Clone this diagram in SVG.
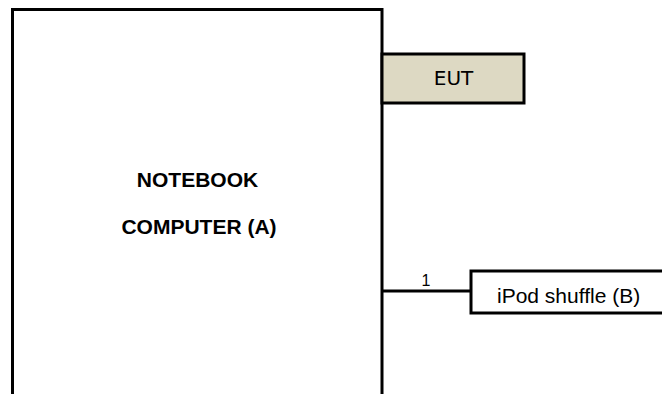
<svg xmlns="http://www.w3.org/2000/svg" width="662" height="394" viewBox="0 0 662 394">
<style>
.box{fill:#ffffff;stroke:#000000;stroke-width:3}
.eut{fill:#DDD9C3;stroke:#000000;stroke-width:3}
.wire{stroke:#000000;stroke-width:3;fill:none}
.bold{font-family:"Liberation Sans",Arial,sans-serif;font-weight:bold;font-size:21px;fill:#000;text-anchor:middle}
.reg{font-family:"Liberation Sans",Arial,sans-serif;font-size:21px;fill:#000}
.num{font-family:"Liberation Sans",Arial,sans-serif;font-size:16px;fill:#000;text-anchor:middle}
.eutt{font-family:"DejaVu Sans",Verdana,sans-serif;font-size:20px;fill:#000;text-anchor:middle}
</style>
<rect width="662" height="394" fill="#ffffff"/>
<g id="connectors">
<line class="wire" x1="382" y1="291" x2="471" y2="291"/>
<text class="num" x="426" y="286">1</text>
</g>
<g id="notebook">
<rect class="box" x="12.5" y="9.5" width="369.5" height="400"/>
<text class="bold" x="197.5" y="186.5">NOTEBOOK</text>
<text class="bold" x="199" y="234">COMPUTER (A)</text>
</g>
<g id="eut">
<rect class="eut" x="382" y="54" width="142" height="49"/>
<text class="eutt" x="453.5" y="85">EUT</text>
</g>
<g id="ipod">
<rect class="box" x="471" y="271" width="220" height="42"/>
<text class="reg" x="497" y="302.5">iPod shuffle (B)</text>
</g>
</svg>
